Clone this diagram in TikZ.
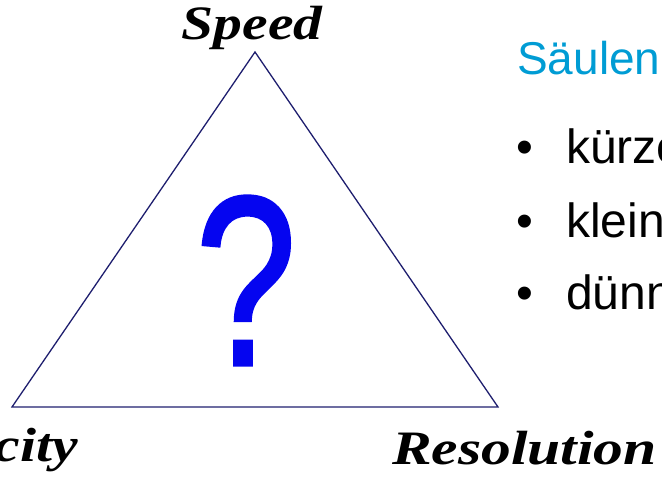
\documentclass[tikz,border=0pt]{standalone}
\usepackage{fontspec}
\setmainfont{Liberation Serif}
\newfontfamily\arialfont{Liberation Sans}
\newfontfamily\questfont[FakeBold=1.4]{Liberation Sans}
\usepackage{graphicx}
\usetikzlibrary{positioning}

\definecolor{headblue}{RGB}{0,156,212}
\definecolor{edgenavy}{RGB}{30,30,110}
\definecolor{qblue}{RGB}{5,5,240}

\tikzset{
  corner/.style={inner sep=0pt, font=\fontsize{48}{52}\selectfont\bfseries\itshape},
  slide/.style={inner sep=0pt, font=\arialfont\fontsize{48}{52}\selectfont}
}

\begin{document}
\begin{tikzpicture}[x=1pt, y=-1pt]

  % ── Page frame ────────────────────────────────────────────────────────
  \path[use as bounding box, clip] (0,0) rectangle (662,478);

  % ── Triangle ──────────────────────────────────────────────────────────
  \coordinate (top)   at (255,52);
  \coordinate (left)  at (12,407);
  \coordinate (right) at (498,407);
  \draw[edgenavy, line width=1.3pt] (top) -- (left) -- (right) -- cycle;

  % Question mark in the middle
  \node[qblue, inner sep=0pt, anchor=base] (quest) at (246,365)
    {\questfont\fontsize{242}{250}\selectfont\scalebox{0.75}[1]{?}};

  % ── Corner labels ─────────────────────────────────────────────────────
  \node[corner, anchor=base] (speed) at (252,40) {\scalebox{1.2}[1]{Speed}};
  \node[corner, anchor=base east] (capacity) at (78,461) {\scalebox{1.2}[1]{city}};
  \node[corner, anchor=base west] (resolution) at (392,465) {\scalebox{1.24}[1]{Resolution}};

  % ── Slide text ────────────────────────────────────────────────────────
  \node[slide, headblue, anchor=base west, font=\arialfont\fontsize{46}{50}\selectfont]
    (title) at (517,75) {Säulen};

  \node[slide, anchor=base] (dot1) at (525,164) {•};
  \node[slide, anchor=base west] (item1) at (566,164) {kürze};
  \node[slide, anchor=base] (dot2) at (525,238) {•};
  \node[slide, anchor=base west] (item2) at (566,238) {klein};
  \node[slide, anchor=base] (dot3) at (525,310) {•};
  \node[slide, anchor=base west] (item3) at (566,310) {dünn};

\end{tikzpicture}
\end{document}
